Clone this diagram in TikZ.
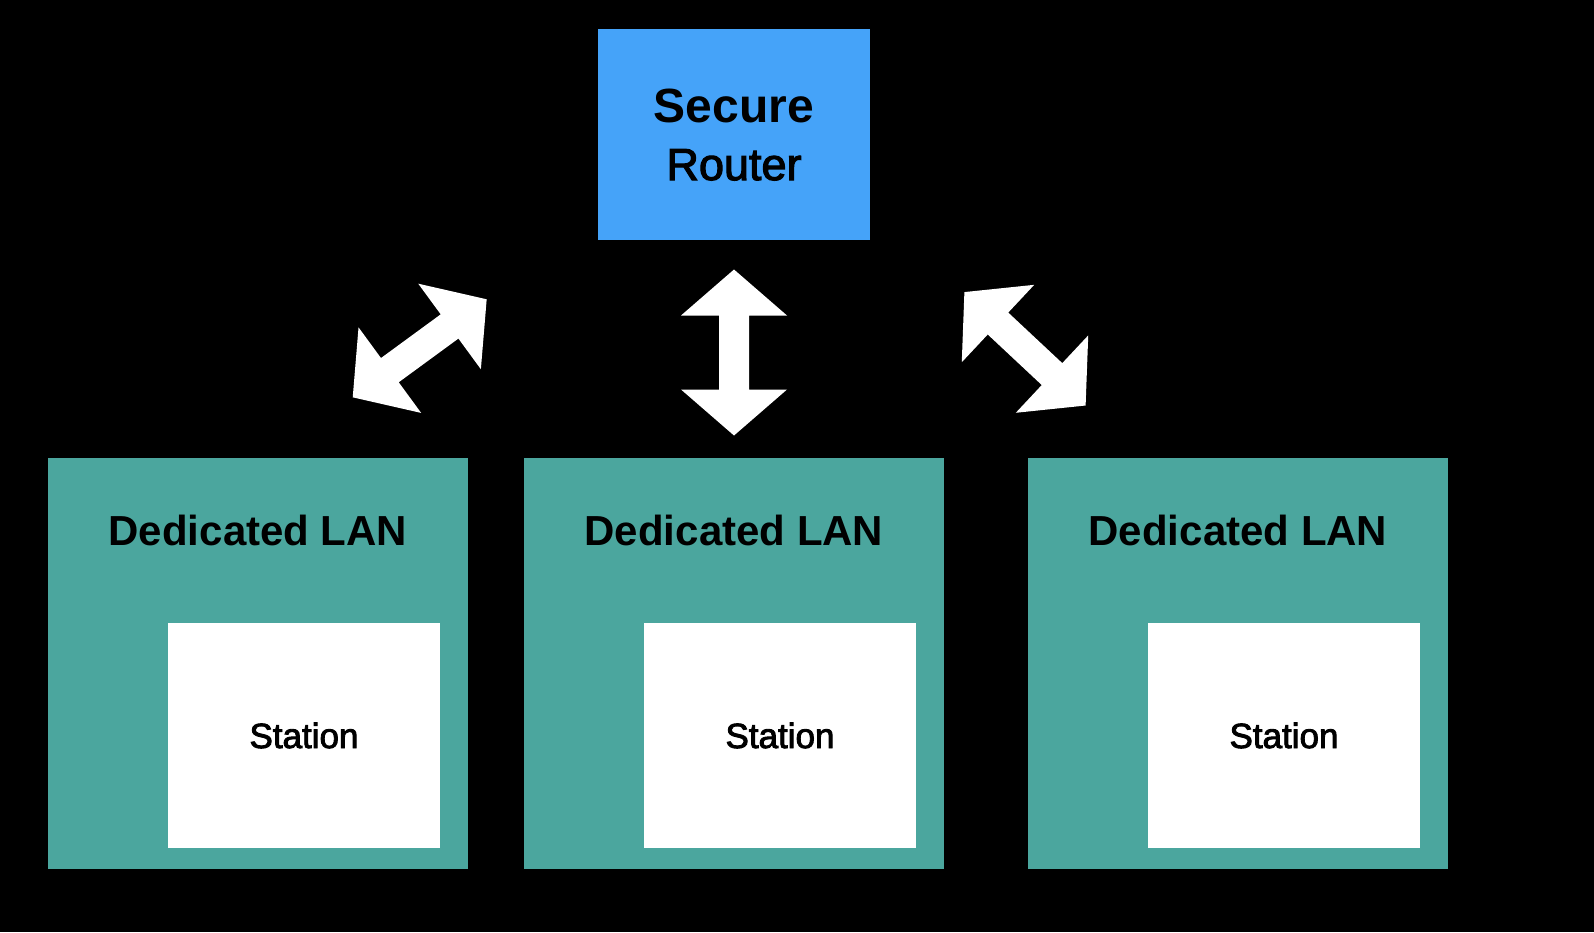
\documentclass[tikz,border=0pt]{standalone}
\usepackage{fontspec}
\setmainfont{Liberation Sans}
\newfontfamily\medfont[FakeBold=2.5]{Liberation Sans}
\usetikzlibrary{positioning}
\definecolor{routerblue}{RGB}{69,163,249}
\definecolor{lanteal}{RGB}{75,166,158}
\def\linkarrow(#1)(#2){\fill[white, shift={(#1)}, rotate=#2] (83,0) -- (37,53) -- (37,15) -- (-37,15) -- (-37,53) -- (-83,0) -- (-37,-53) -- (-37,-15) -- (37,-15) -- (37,-53) -- cycle;}

\begin{document}
\begin{tikzpicture}[x=1pt, y=-1pt,
	routerbox/.style={fill=routerblue, minimum width=272pt, minimum height=211pt, inner sep=0pt, align=center, font=\fontsize{48}{58}\selectfont},
	lanbox/.style={fill=lanteal, minimum width=420pt, minimum height=411pt, inner sep=0pt},
	lantitle/.style={anchor=base, inner sep=0pt, font=\bfseries\fontsize{42}{50}\selectfont},
	stationbox/.style={fill=white, minimum width=272pt, minimum height=225pt, inner sep=0pt, anchor=south east, font=\medfont\fontsize{35}{42}\selectfont}]
		%%%%% START %%%%%
		
		\fill[black] (0, 0) rectangle (1594, 932);
		
		\node[routerbox] (router) at (734, 134.5) {{\bfseries Secure}\\{\medfont\fontsize{45}{58}\selectfont Router}};
		
		\node[lanbox] (lanA) at (258, 663.5) {};
		\node[lanbox] (lanB) at (734, 663.5) {};
		\node[lanbox] (lanC) at (1238, 663.5) {};
		
		\node[lantitle] (titleA) at ([yshift=-88pt]lanA.north) {Dedicated LAN};
		\node[lantitle] (titleB) at ([yshift=-88pt]lanB.north) {Dedicated LAN};
		\node[lantitle] (titleC) at ([yshift=-88pt]lanC.north) {Dedicated LAN};
		
		\node[stationbox] (stationA) at ([xshift=-28pt, yshift=21pt]lanA.south east) {Station};
		\node[stationbox] (stationB) at ([xshift=-28pt, yshift=21pt]lanB.south east) {Station};
		\node[stationbox] (stationC) at ([xshift=-28pt, yshift=21pt]lanC.south east) {Station};
		
		\coordinate (linkA) at (419.7, 348.3);
		\coordinate (linkB) at (734, 352.5);
		\coordinate (linkC) at (1025, 348.8);
		\linkarrow(linkA)(36.2)
		\linkarrow(linkB)(90)
		\linkarrow(linkC)(136.9)
		
		%%%%% END %%%%%
\end{tikzpicture}
\end{document}
